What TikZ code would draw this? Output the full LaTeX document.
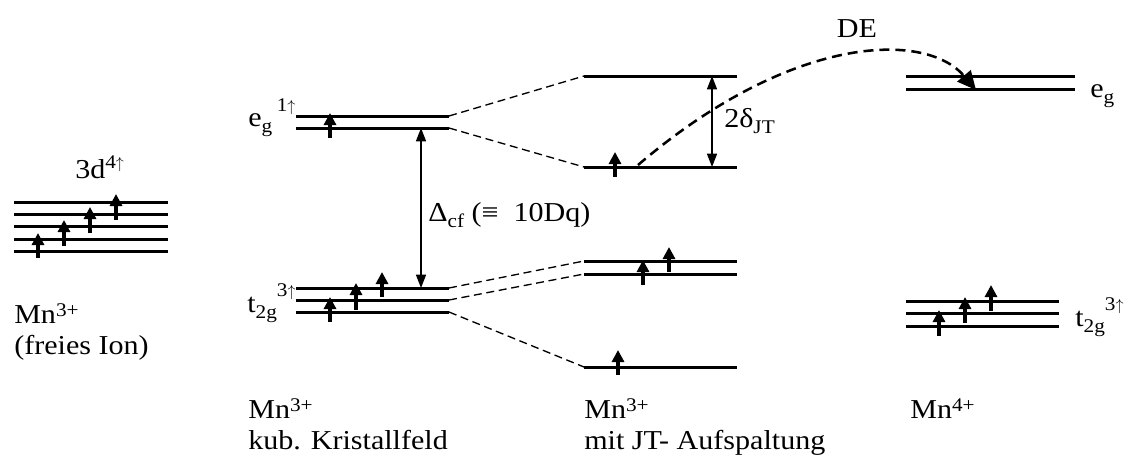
\documentclass[tikz,border=0pt]{standalone}
\usepackage{fontspec}
\setmainfont[FakeStretch=1.1]{Liberation Serif}
\usetikzlibrary{arrows.meta}
\newcommand{\upa}{{\fontsize{12.5}{13}\selectfont$\uparrow$}}
\newcommand{\sps}[2]{\raisebox{#1}{\fontsize{14.5}{16}\selectfont #2}}
\newcommand{\sbs}[1]{\raisebox{-4.5pt}{\fontsize{14.5}{16}\selectfont #1}}
\begin{document}
\begin{tikzpicture}[x=0.75pt,y=-0.75pt,
  level/.style={line width=2.25pt},
  elec/.style={line width=2.6pt,-{Triangle[width=9pt,length=9pt]}},
  conn/.style={line width=1pt,dash pattern=on 6pt off 3.5pt},
  dbl/.style={line width=1.1pt,{Triangle[width=7.5pt,length=10pt]}-{Triangle[width=7.5pt,length=10pt]}},
  de/.style={line width=1.9pt,dash pattern=on 7.5pt off 4.5pt,-{Triangle[width=13pt,length=14pt]}},
  lbl/.style={font=\fontsize{20.5}{25}\selectfont,inner sep=0pt,anchor=base west}]
\useasboundingbox (0,0) rectangle (1126,457);
% ---- free ion
\foreach \y in {202,214,226,239,251} \draw[level] (14,\y) -- (168,\y);
\draw[elec] (38,258) -- (38,233);
\draw[elec] (64,246) -- (64,220);
\draw[elec] (90,233) -- (90,207);
\draw[elec] (116,220) -- (116,194);
\node[lbl] (d4) at (75,178) {3d\sps{7pt}{4\upa}};
\node[lbl] (fi1) at (14,323) {Mn\sps{5pt}{3+}};
\node[lbl] (fi2) at (14,354) {(freies Ion)};
% ---- cubic field
\coordinate (ce1l) at (296,116); \coordinate (ce1r) at (449,116);
\coordinate (ce2l) at (296,128); \coordinate (ce2r) at (449,128);
\coordinate (ct1l) at (296,288); \coordinate (ct1r) at (449,288);
\coordinate (ct2l) at (296,300); \coordinate (ct2r) at (449,300);
\coordinate (ct3l) at (296,312); \coordinate (ct3r) at (449,312);
\foreach \a in {ce1,ce2,ct1,ct2,ct3} \draw[level] (\a l) -- (\a r);
\draw[elec] (330,138) -- (330,113);
\draw[elec] (330,322) -- (330,297);
\draw[elec] (356,310) -- (356,283);
\draw[elec] (382,297) -- (382,272);
\coordinate (dcfa) at (421,128); \coordinate (dcfb) at (421,288);
\draw[dbl] (dcfa) -- (dcfb);
\node[lbl] (eg1) at (248,126) {e\sbs{g}\,\sps{11pt}{1\upa}};
\node[lbl] (tg1) at (247,312) {t\sbs{2g}\sps{12pt}{3\upa}};
\node[lbl] (dcf) at (428,221) {Δ\sbs{cf} (≡\ \ 10Dq)};
\node[lbl] (kb1) at (248,418) {Mn\sps{5pt}{3+}};
\node[lbl] (kb2) at (248,449) {kub. Kristallfeld};
% ---- JT split
\coordinate (je1l) at (584,76);  \coordinate (je1r) at (737,76);
\coordinate (je2l) at (584,167); \coordinate (je2r) at (737,167);
\coordinate (jt1l) at (584,261); \coordinate (jt1r) at (737,261);
\coordinate (jt2l) at (584,274); \coordinate (jt2r) at (737,274);
\coordinate (jt3l) at (584,367); \coordinate (jt3r) at (737,367);
\foreach \a in {je1,je2,jt1,jt2,jt3} \draw[level] (\a l) -- (\a r);
\draw[elec] (615,177) -- (615,152);
\draw[elec] (643,285) -- (643,260);
\draw[elec] (669,272) -- (669,247);
\draw[elec] (618,375) -- (618,350);
\coordinate (djta) at (712,76); \coordinate (djtb) at (712,167);
\draw[dbl] (djta) -- (djtb);
\node[lbl] (djt) at (724,127) {2δ\sbs{JT}};
\node[lbl] (jt1) at (584,418) {Mn\sps{5pt}{3+}};
\node[lbl] (jt2) at (584,449) {mit JT- Aufspaltung};
% ---- connectors
\draw[conn] (ce1r) -- (je1l);
\draw[conn] (ce2r) -- (je2l);
\draw[conn] (ct1r) -- (jt1l);
\draw[conn] (ct2r) -- (jt2l);
\draw[conn] (ct3r) -- (jt3l);
% ---- Mn4+
\coordinate (re1l) at (906,76); \coordinate (re1r) at (1075,76);
\coordinate (re2l) at (906,89); \coordinate (re2r) at (1075,89);
\coordinate (rt1l) at (906,301); \coordinate (rt1r) at (1059,301);
\coordinate (rt2l) at (906,313); \coordinate (rt2r) at (1059,313);
\coordinate (rt3l) at (906,326); \coordinate (rt3r) at (1059,326);
\foreach \a in {re1,re2,rt1,rt2,rt3} \draw[level] (\a l) -- (\a r);
\draw[elec] (939,336) -- (939,310);
\draw[elec] (965,323) -- (965,297);
\draw[elec] (991,311) -- (991,285);
\node[lbl] (eg2) at (1090,97) {e\sbs{g}};
\node[lbl] (tg2) at (1075,326) {t\sbs{2g}\sps{12pt}{3\upa}};
\node[lbl] (m4) at (910,418) {Mn\sps{5pt}{4+}};
% ---- double exchange
\coordinate (des) at (638,165); \coordinate (dee) at (976,90);
\draw[de] (des) .. controls (790,35) and (925,30) .. (dee);
\node[lbl,anchor=base] (delbl) at (857,37) {DE};
\end{tikzpicture}
\end{document}
